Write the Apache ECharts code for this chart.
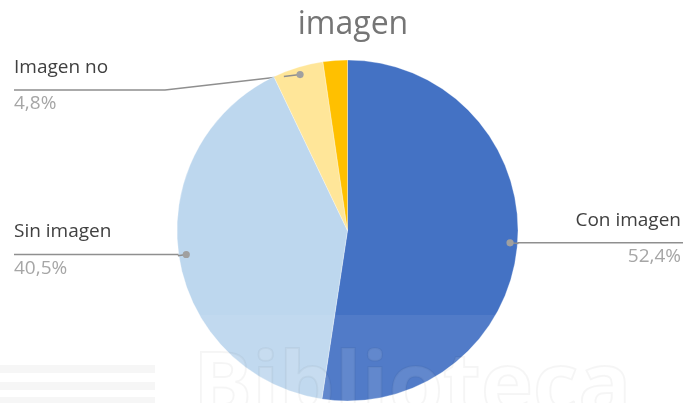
<!DOCTYPE html>
<html>
<head>
<meta charset="utf-8">
<script src="https://cdn.jsdelivr.net/npm/echarts@6/dist/echarts.min.js"></script>
<style>
html,body{margin:0;padding:0;background:#fff;}
#chart{width:683px;height:403px;}
</style>
</head>
<body>
<div id="chart"></div>
<script>
// ---- data ----
const titleText = 'imagen';
const categories = ['Con imagen', 'Sin imagen', 'Imagen no', 'Otro'];
const values = [52.4, 40.5, 4.8, 2.3];
const percentLabels = ['52,4%', '40,5%', '4,8%', ''];
const showLabel = [true, true, true, false];
const colors = ['#4472C4', '#BDD7EE', '#FFE699', '#FFC000'];

// ---- layout constants ----
const W = 683, H = 403;
const CX = 347.5, CY = 230.5, R = 170.5, DOT_R = 163;
const FONT = '"Open Sans", "Noto Sans", sans-serif';
const labelPlacement = [
  { side: 'right' },
  { side: 'left' },
  { side: 'left', lineY: 90, elbowX: 165 },
  { side: 'none' }
];
const dots = [];
const edges = [];

const chart = echarts.init(document.getElementById('chart'), null, { renderer: 'canvas' });

function labelLayout(p) {
  const i = p.dataIndex;
  const L = labelPlacement[i];
  const pts = p.labelLinePoints;
  if (!pts || !L || L.side === 'none') return;
  const e = pts[0];
  const dx = e[0] - CX, dy = e[1] - CY, d = Math.sqrt(dx * dx + dy * dy);
  const dot = [CX + dx / d * DOT_R, CY + dy / d * DOT_R];
  dots[i] = dot;
  edges[i] = [CX + dx / d * (R + 1), CY + dy / d * (R + 1)];
  const lineY = L.lineY != null ? L.lineY : dot[1];
  let line, x, align;
  if (L.side === 'right') {
    x = W - 2; align = 'right';
    line = [dot, [W, lineY], [W, lineY]];
  } else {
    x = 14; align = 'left';
    const ex = L.elbowX != null ? L.elbowX : (dot[0] + 14) / 2;
    line = [dot, [ex, lineY], [14, lineY]];
  }
  return { x: x, y: lineY - 45, align: align, verticalAlign: 'top', labelLinePoints: line };
}

const data = categories.map((c, i) => ({
  name: c,
  value: values[i],
  itemStyle: { color: colors[i] },
  label: { show: showLabel[i] },
  labelLine: { show: showLabel[i] }
}));

function buildOption() {
  const graphic = [];
  dots.forEach((d, i) => {
    if (!d) return;
    const L = labelPlacement[i];
    // part of the leader line lying over the slice
    let end = edges[i];
    if (L.lineY != null) {
      const t = (d[1] - L.lineY);
      end = [d[0] - (d[0] - L.elbowX) * 0.12, d[1] - t * 0.12];
    }
    graphic.push({
      type: 'line', z: 50, silent: true,
      shape: { x1: d[0], y1: d[1], x2: end[0], y2: end[1] },
      style: { stroke: '#8f8f8f', lineWidth: 1.5 }
    });
    graphic.push({
      type: 'circle', z: 51, silent: true,
      shape: { cx: d[0], cy: d[1], r: 3.6 },
      style: { fill: '#a0a0a0' }
    });
  });
  // faint watermark overlay
  graphic.push({
    type: 'rect', z: 60, silent: true,
    shape: { x: 0, y: 315, width: W, height: H - 315 },
    style: { fill: 'rgba(255,255,255,0.07)' }
  });
  [365, 382, 397].forEach((y) => graphic.push({
    type: 'rect', z: 61, silent: true,
    shape: { x: 0, y: y, width: 155, height: 8 },
    style: { fill: 'rgba(0,0,0,0.035)' }
  }));
  graphic.push({
    type: 'text', z: 61, silent: true, left: 192, top: 345,
    style: {
      text: 'Biblioteca', font: '700 88px ' + FONT,
      fill: 'rgba(255,255,255,0.10)', stroke: 'rgba(0,0,0,0.04)', lineWidth: 2
    }
  });
  return {
    backgroundColor: '#ffffff',
    animation: false,
    title: {
      text: titleText, left: 348, top: 4, textAlign: 'center',
      textStyle: { fontFamily: FONT, fontSize: 32, fontWeight: 'normal', color: '#757575' }
    },
    graphic: graphic,
    series: [{
      type: 'pie',
      center: [CX, CY],
      radius: R,
      startAngle: 90,
      clockwise: true,
      avoidLabelOverlap: false,
      itemStyle: { borderColor: 'rgba(255,255,255,0.6)', borderWidth: 0.5 },
      label: {
        show: true,
        position: 'outside',
        formatter: (p) => '{n|' + p.name + '}\n{p|' + percentLabels[p.dataIndex] + '}',
        rich: {
          n: { fontFamily: FONT, fontSize: 19, color: '#404040', lineHeight: 45 },
          p: { fontFamily: FONT, fontSize: 19, color: '#a6a6a6', lineHeight: 28 }
        }
      },
      labelLine: { show: true, lineStyle: { color: '#8f8f8f', width: 1.5 } },
      labelLayout: labelLayout,
      emphasis: { disabled: true },
      data: data
    }]
  };
}

chart.setOption(buildOption());
chart.setOption(buildOption(), true);
</script>
</body>
</html>
